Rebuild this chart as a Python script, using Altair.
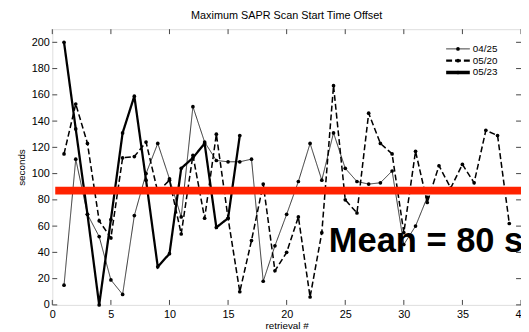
import altair as alt
import pandas as pd

# ---- data ----
series_names = ["04/25", "05/20", "05/23"]

retrieval_0425 = list(range(1, 33))
seconds_0425 = [15, 111, 69, 52, 19, 8, 68, 100, 123, 96,
                67, 151, 124, 110, 109, 109, 111, 18, 45, 69,
                94, 123, 95, 131, 104, 94, 92, 93, 102, 46,
                60, 82]

retrieval_0520 = list(range(1, 40))
seconds_0520 = [115, 153, 123, 64, 51, 112, 113, 124, 86, 95,
                54, 114, 66, 130, 66, 10, 49, 92, 26, 40,
                67, 6, 55, 167, 80, 70, 146, 123, 115, 55,
                117, 78, 106, 89, 107, 93, 133, 129, 62]

retrieval_0523 = list(range(1, 17))
seconds_0523 = [200, 134, 69, 0, 65, 131, 159, 95, 29, 39,
                104, 112, 123, 59, 66, 129]

mean_value = 87
mean_label = "Mean = 80 s"
mean_label_pos = [23.6, 40.4]

x_ticks = [0, 5, 10, 15, 20, 25, 30, 35, 40]
y_ticks = [0, 20, 40, 60, 80, 100, 120, 140, 160, 180, 200]

title_text = "Maximum SAPR Scan Start Time Offset"
x_title = "retrieval #"
y_title = "seconds"

# line styles per series (style, not data)
dashes = [[1, 0], [6, 3], [1, 0]]
widths = [0.8, 2.3, 3.6]

# ---- build table ----
rows = []
for name, xs, ys in [("04/25", retrieval_0425, seconds_0425),
                     ("05/20", retrieval_0520, seconds_0520),
                     ("05/23", retrieval_0523, seconds_0523)]:
    for xv, yv in zip(xs, ys):
        rows.append({"series": name, "retrieval": xv, "seconds": yv})
df = pd.DataFrame(rows)

W, H = 476, 280
FONT = "Liberation Sans"

xscale = alt.Scale(domain=[0, 40], nice=False)
yscale = alt.Scale(domain=[0, 210], nice=False)

x_axis = alt.Axis(values=x_ticks, title=x_title, ticks=False, domain=False,
                  grid=False, labelFontSize=11, labelFont=FONT, labelColor="black",
                  labelPadding=4, titleFontSize=10, titleFont=FONT,
                  titleFontWeight="normal", titleColor="black", titlePadding=1,
                  labelFlush=False, labelOverlap=False)
y_axis = alt.Axis(values=y_ticks, title=y_title, ticks=False, domain=False,
                  grid=False, labelFontSize=11, labelFont=FONT, labelColor="black",
                  labelPadding=3, titleFontSize=10, titleFont=FONT,
                  titleFontWeight="normal", titleColor="black", titlePadding=5,
                  labelOverlap=False)


def X(field):
    return alt.X(field, scale=xscale, axis=x_axis)


def Y(field):
    return alt.Y(field, scale=yscale, axis=y_axis)


lines = alt.Chart(df).mark_line(color="black").encode(
    x=X("retrieval:Q"), y=Y("seconds:Q"),
    strokeDash=alt.StrokeDash("series:N",
                              scale=alt.Scale(domain=series_names, range=dashes),
                              legend=None),
    strokeWidth=alt.StrokeWidth("series:N",
                                scale=alt.Scale(domain=series_names, range=widths),
                                legend=None),
    order="retrieval:Q",
)

points = alt.Chart(df).mark_circle(color="black", size=14, opacity=1).encode(
    x=X("retrieval:Q"), y=Y("seconds:Q"),
)

mean_df = pd.DataFrame({"retrieval": [0.25], "x2": [40], "seconds": [mean_value]})
mean_rule = alt.Chart(mean_df).mark_rule(color="#ff2200", strokeWidth=8).encode(
    x=X("retrieval:Q"), x2="x2:Q", y=Y("seconds:Q"))

text_df = pd.DataFrame({"retrieval": [mean_label_pos[0]], "seconds": [mean_label_pos[1]],
                        "t": [mean_label]})
mean_text = alt.Chart(text_df).mark_text(align="left", baseline="alphabetic", fontSize=35,
                                         fontWeight="bold", font=FONT, color="black").encode(
    x=X("retrieval:Q"), y=Y("seconds:Q"), text="t:N")

# inward tick marks (box style)
xt_df = pd.DataFrame({"retrieval": x_ticks})
yt_df = pd.DataFrame({"seconds": y_ticks})
tick_color = "#444"
xt_bottom = alt.Chart(xt_df).mark_rule(color=tick_color, strokeWidth=1).encode(
    x=X("retrieval:Q"), y=alt.value(H - 5), y2=alt.value(H))
xt_top = alt.Chart(xt_df).mark_rule(color=tick_color, strokeWidth=1).encode(
    x=X("retrieval:Q"), y=alt.value(0), y2=alt.value(5))
yt_left = alt.Chart(yt_df).mark_rule(color=tick_color, strokeWidth=1).encode(
    y=Y("seconds:Q"), x=alt.value(0), x2=alt.value(5))
yt_right = alt.Chart(yt_df).mark_rule(color=tick_color, strokeWidth=1).encode(
    y=Y("seconds:Q"), x=alt.value(W - 5), x2=alt.value(W))

# legend drawn as small layers (top right, MATLAB style)
LX0, LX1, LY0, LDY = 400, 424, 20, 12
legend_layers = []
for i, name in enumerate(series_names):
    ly = LY0 + LDY * i
    ldf = pd.DataFrame({"label": [name]})
    legend_layers.append(alt.Chart(ldf).mark_rule(
        color="black", strokeWidth=widths[i], strokeDash=dashes[i]).encode(
        x=alt.value(LX0), x2=alt.value(LX1), y=alt.value(ly)))
    legend_layers.append(alt.Chart(ldf).mark_circle(color="black", size=14, opacity=1).encode(
        x=alt.value((LX0 + LX1) / 2), y=alt.value(ly)))
    legend_layers.append(alt.Chart(ldf).mark_text(
        align="left", baseline="middle", fontSize=10, font=FONT, color="black").encode(
        x=alt.value(LX1 + 3), y=alt.value(ly), text="label:N"))

chart = alt.layer(
    lines, points, xt_bottom, xt_top, yt_left, yt_right, mean_rule, mean_text, *legend_layers
).properties(
    width=W, height=H,
    title=alt.TitleParams(title_text, fontSize=11, font=FONT, fontWeight="normal",
                          color="black", anchor="middle", offset=8),
    autosize=alt.AutoSizeParams(type="none"),
    padding={"left": 45, "top": 19, "right": 0, "bottom": 24},
).configure_view(stroke="#555", strokeWidth=1).configure(background="white")

chart.save("out.html", embed_options={"renderer": "svg", "actions": False})
